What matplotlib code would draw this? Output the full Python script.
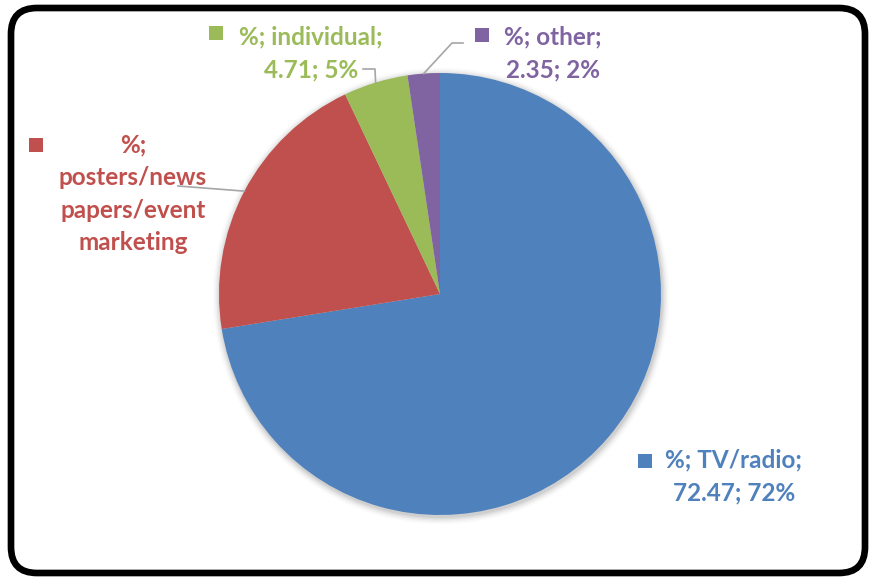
import matplotlib
matplotlib.use("Agg")
import matplotlib.pyplot as plt
import numpy as np
from matplotlib.patches import FancyBboxPatch, Circle, Rectangle

categories = ["TV/radio", "posters/news papers/event marketing", "individual", "other"]
values = [72.47, 20.47, 4.71, 2.35]
colors = ["#4F81BD", "#C0504D", "#9BBB59", "#8064A2"]
label_texts = [
    "%; TV/radio;\n72.47; 72%",
    "%;\nposters/news\npapers/event\nmarketing",
    "%; individual;\n4.71; 5%",
    "%; other;\n2.35; 2%",
]

W, H = 870, 579
fig = plt.figure(figsize=(W / 100, H / 100), dpi=100)
ax = fig.add_axes([0, 0, 1, 1])

# rounded border
border = FancyBboxPatch((11, 8), 854, 565, boxstyle="round,pad=0,rounding_size=26",
                        fill=False, edgecolor="black", linewidth=4.8, zorder=1)
ax.add_patch(border)

cx, cy, r = 440, 294, 221

# soft shadow
for i, a in enumerate(np.linspace(0.05, 0.012, 6)):
    ax.add_patch(Circle((cx + 1, cy + 2), r + 1 + i * 1.3, color="black", alpha=a, lw=0, zorder=2))

# y axis is inverted, so counterclock=True draws clockwise on screen
wedges, _ = ax.pie(values, colors=colors, startangle=-90, counterclock=True,
                   center=(cx, cy), radius=r, frame=True,
                   wedgeprops=dict(linewidth=0))
for w in wedges:
    w.set_zorder(3)
ax.set_xlim(0, W)
ax.set_ylim(H, 0)
ax.set_aspect("equal")
ax.axis("off")

# label layout: text centre (x, y of first line), marker position, leader end
label_pos = [(734, 460), (133, 145), (311, 37), (553, 37)]
marker_pos = [(645, 461), (36, 145), (216, 33), (482, 35)]
leader_end = [None, [(178, 186)], [(375, 69), (363, 69)], [(452, 43), (463, 43)]]

cum = np.cumsum([0] + values) / sum(values)
for i, (txt, col) in enumerate(zip(label_texts, colors)):
    lx, ly = label_pos[i]
    for k, line in enumerate(txt.split("\n")):
        ax.text(lx, ly + k * 32.5, line, color=col, fontsize=17.5, fontweight="bold",
                family=["Lato", "DejaVu Sans"], ha="center", va="center", zorder=5)
    mx, my = marker_pos[i]
    ax.add_patch(Rectangle((mx - 7, my - 7), 14, 14, color=col, lw=0, zorder=5))
    if leader_end[i] is not None:
        mid = (cum[i] + cum[i + 1]) / 2
        ang = np.deg2rad(90 - 360 * mid)
        px, py = cx + r * np.cos(ang), cy - r * np.sin(ang)
        xs, ys = zip(*([(px, py)] + leader_end[i]))
        ax.plot(xs, ys, color="#A6A6A6", lw=1.2, zorder=4)

fig.savefig("out.png", dpi=100, facecolor="white")
